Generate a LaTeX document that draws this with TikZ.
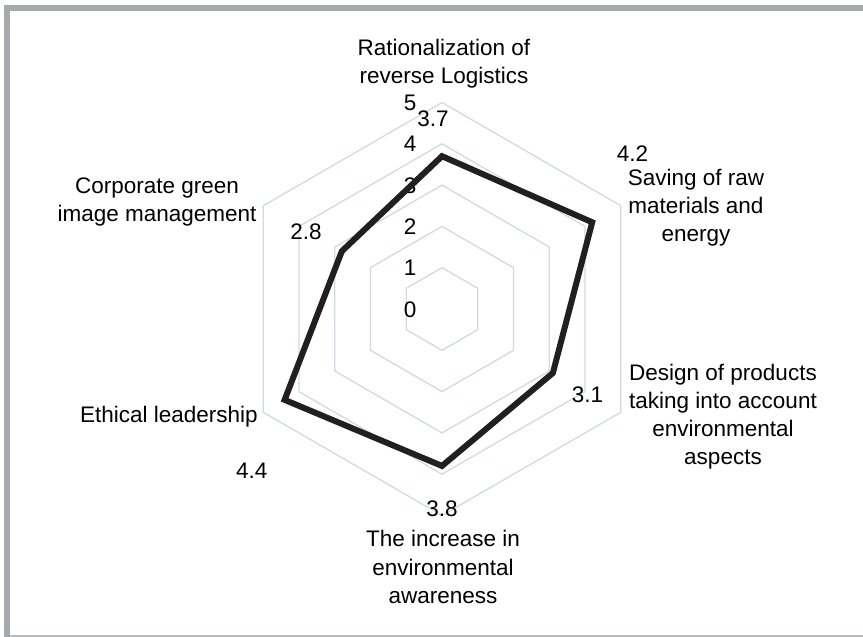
\documentclass[tikz,border=0pt]{standalone}
\usepackage{fontspec}
\setmainfont{Liberation Sans}
\definecolor{borderc}{HTML}{A7A9AC}
\definecolor{gridc}{HTML}{D0D9E4}
\definecolor{serc}{HTML}{231F20}
\begin{document}
\begin{tikzpicture}[x=1pt,y=-1pt,
  lbl/.style={font=\fontsize{22.5}{28.3}\selectfont, inner sep=0pt, anchor=base},
  tick/.style={font=\fontsize{22.5}{28.3}\selectfont, inner sep=0pt, anchor=base east},
  gridline/.style={draw=gridc, line width=1.3pt},
  series/.style={draw=serc, line width=6pt, line join=miter}]
\useasboundingbox (0,0) rectangle (863,637);
% frame
\fill[borderc] (4,5) rectangle (863,11);
\fill[borderc] (4,5) rectangle (10,637);
\draw[borderc!80, line width=1.5pt] (10,636) -- (863,636);
% grid
\def\cxx{442}\def\cyy{309}\def\unitr{41.3}
\foreach \k in {1,...,5}{
  \foreach \i in {0,...,5}{
    \coordinate (g\k-\i) at ({\cxx+\k*\unitr*cos(90-60*\i)},{\cyy-\k*\unitr*sin(90-60*\i)});
  }
  \draw[gridline] (g\k-0)--(g\k-1)--(g\k-2)--(g\k-3)--(g\k-4)--(g\k-5)--cycle;
}
% tick labels
\foreach \k in {0,...,5}{
  \node[tick] (t\k) at (416.5,{\cyy-\k*\unitr+8}) {\k};
}
% data
\foreach \v [count=\i from 0] in {3.7,4.2,3.1,3.8,4.4,2.8}{
  \coordinate (p\i) at ({\cxx+\v*\unitr*cos(90-60*\i)},{\cyy-\v*\unitr*sin(90-60*\i)});
}
\draw[series] (p0)--(p1)--(p2)--(p3)--(p4)--(p5)--cycle;
% data labels
\node[lbl] (d0) at (433,126) {3.7};
\node[lbl] (d1) at (632.5,161.7) {4.2};
\node[lbl] (d2) at (587.5,402.7) {3.1};
\node[lbl] (d3) at (442,516) {3.8};
\node[lbl] (d4) at (251.7,478.3) {4.4};
\node[lbl] (d5) at (306,239) {2.8};
% category labels
\node[lbl] (c0) at (444,55) {\begin{tabular}[t]{@{}c@{}}Rationalization of\\reverse Logistics\end{tabular}};
\node[lbl] (c1) at (696,185) {\begin{tabular}[t]{@{}c@{}}Saving of raw\\materials and\\energy\end{tabular}};
\node[lbl] (c2) at (723,380) {\begin{tabular}[t]{@{}c@{}}Design of products\\taking into account\\environmental\\aspects\end{tabular}};
\node[lbl] (c3) at (443,546.7) {\begin{tabular}[t]{@{}c@{}}The increase in\\environmental\\awareness\end{tabular}};
\node[lbl] (c4) at (169,422.7) {Ethical leadership};
\node[lbl] (c5) at (157,193.3) {\begin{tabular}[t]{@{}c@{}}Corporate green\\image management\end{tabular}};
\end{tikzpicture}
\end{document}
